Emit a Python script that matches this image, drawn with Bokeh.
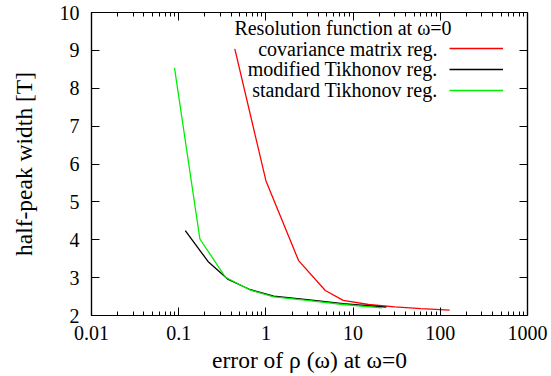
from bokeh.plotting import figure
from bokeh.models import (LogAxis, LinearAxis, FixedTicker, Legend, LegendItem, Label)
from bokeh.embed import file_html
from bokeh.resources import INLINE

FONT = "Liberation Serif"

# data
cov_x = [0.44, 1.0, 2.37, 4.8, 7.7, 15.0, 30.0, 60.0, 128.0]
cov_y = [9.04, 5.56, 3.45, 2.66, 2.40, 2.29, 2.23, 2.18, 2.14]
mod_x = [0.119, 0.218, 0.37, 0.665, 1.23, 2.98, 7.7, 24.1]
mod_y = [4.24, 3.42, 2.95, 2.68, 2.51, 2.42, 2.31, 2.22]
std_x = [0.0895, 0.175, 0.344, 0.665, 1.23, 2.98, 7.7, 21.5]
std_y = [8.54, 4.02, 3.01, 2.67, 2.49, 2.40, 2.29, 2.20]

x_ticks = [0.01, 0.1, 1, 10, 100, 1000]
x_tick_labels = ["0.01", "0.1", "1", "10", "100", "1000"]
x_minor = [m * d for d in [0.01, 0.1, 1, 10, 100] for m in range(2, 10)]
y_ticks = [2, 3, 4, 5, 6, 7, 8, 9, 10]

x_title = "error of ρ (ω) at ω=0"
y_title = "half-peak width [T]"
legend_title = "Resolution function at ω=0"
series_names = ["covariance matrix reg.", "modified Tikhonov reg.", "standard Tikhonov reg."]
series_colors = ["#ff0000", "#000000", "#00ee00"]

p = figure(width=551, height=376, x_axis_type="log", x_range=(0.01, 1000), y_range=(2, 10),
           output_backend="svg", toolbar_location=None,
           min_border_left=91, min_border_right=24, min_border_top=12, min_border_bottom=61)
p.grid.visible = False
p.outline_line_color = "black"
p.outline_line_width = 1.2
p.background_fill_color = "white"
p.border_fill_color = "white"

xt = FixedTicker(ticks=x_ticks, minor_ticks=x_minor)
yt = FixedTicker(ticks=y_ticks, minor_ticks=[])

def style(ax, labels=True):
    ax.major_tick_in = 8
    ax.major_tick_out = 0
    ax.minor_tick_in = 4
    ax.minor_tick_out = 0
    ax.axis_line_width = 1.2
    ax.major_tick_line_width = 1
    ax.minor_tick_line_width = 1
    ax.major_label_text_font = FONT
    ax.major_label_text_font_size = "20px" if labels else "0px"
    ax.major_label_text_color = "black" if labels else None
    ax.major_label_standoff = 10

bx = p.xaxis[0]
bx.ticker = xt
bx.major_label_overrides = {t: l for t, l in zip(x_ticks, x_tick_labels)}
style(bx)
bx.axis_label = x_title
bx.axis_label_text_font = FONT
bx.axis_label_text_font_style = "normal"
bx.axis_label_text_font_size = "23.5px"
bx.axis_label_text_color = "black"
bx.axis_label_standoff = 4

ly = p.yaxis[0]
ly.ticker = yt
style(ly)
ly.major_label_standoff = 12
ly.axis_label = y_title
ly.axis_label_text_font = FONT
ly.axis_label_text_font_style = "normal"
ly.axis_label_text_font_size = "23.5px"
ly.axis_label_text_color = "black"
ly.axis_label_standoff = 20

tx = LogAxis(ticker=xt)
style(tx, labels=False)
p.add_layout(tx, "above")
ry = LinearAxis(ticker=yt)
style(ry, labels=False)
p.add_layout(ry, "right")

r1 = p.line(cov_x, cov_y, line_color=series_colors[0], line_width=1.3)
r2 = p.line(mod_x, mod_y, line_color=series_colors[1], line_width=1.3)
r3 = p.line(std_x, std_y, line_color=series_colors[2], line_width=1.3)

leg = Legend(items=[LegendItem(label=" ", renderers=[r]) for r in (r1, r2, r3)],
             location=(358, 215), padding=0, margin=0, spacing=1,
             glyph_width=54, glyph_height=20, label_height=20, label_width=0,
             label_standoff=0, label_text_font_size="0px",
             border_line_color=None, background_fill_alpha=0)
p.add_layout(leg, "center")

p.add_layout(Label(x=251.5, y=288, x_units="screen", y_units="screen", text=legend_title,
                   text_align="center", text_baseline="middle", text_font=FONT,
                   text_font_size="20px", text_color="black"))
for i, name in enumerate(series_names):
    p.add_layout(Label(x=346, y=267 - 20.5 * i, x_units="screen", y_units="screen", text=name,
                       text_align="right", text_baseline="middle", text_font=FONT,
                       text_font_size="20px", text_color="black"))

open("out.html", "w").write(file_html(p, INLINE))
